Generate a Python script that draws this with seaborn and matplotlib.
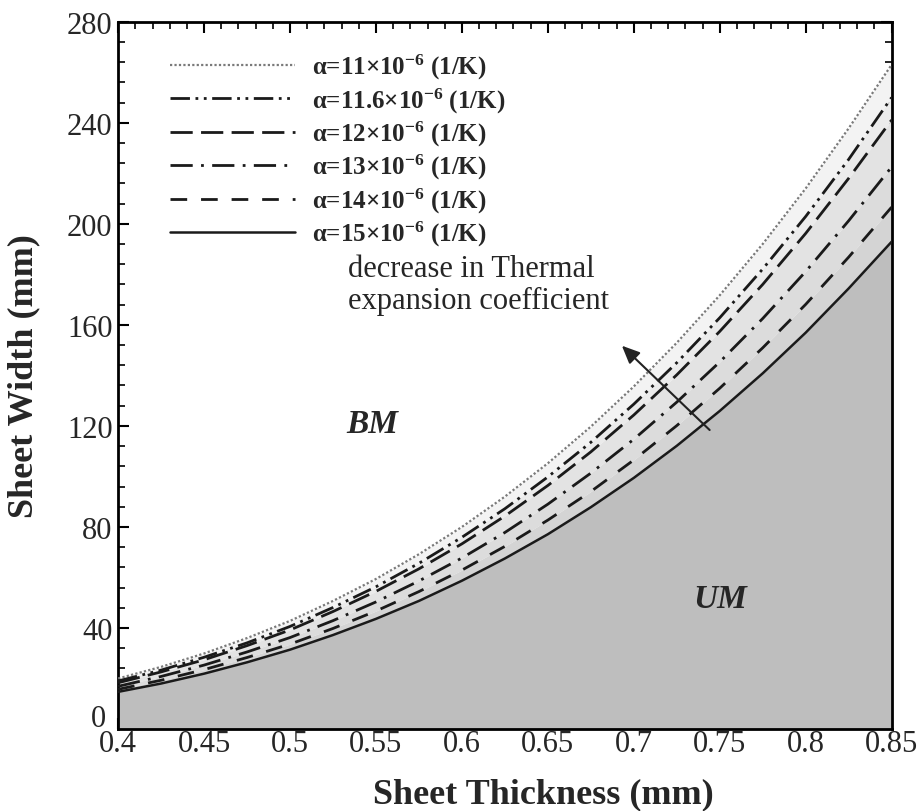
import matplotlib
matplotlib.use("Agg")
import matplotlib.pyplot as plt
from matplotlib.ticker import AutoMinorLocator
from matplotlib.transforms import ScaledTranslation
import seaborn as sns

# ---- data ----
thickness = [0.400, 0.425, 0.450, 0.475, 0.500, 0.525, 0.550, 0.575, 0.600, 0.625,
             0.650, 0.675, 0.700, 0.725, 0.750, 0.775, 0.800, 0.825, 0.850]
w_a11 = [20.0, 24.6, 29.9, 36.0, 42.8, 50.7, 59.4, 69.2, 80.0, 92.0,
         105.2, 119.7, 135.6, 152.9, 171.7, 192.0, 214.0, 237.8, 263.0]
w_a116 = [19.0, 23.3, 28.4, 34.1, 40.6, 48.1, 56.3, 65.6, 75.9, 87.2,
          99.8, 113.5, 128.6, 145.0, 162.8, 182.1, 202.9, 225.5, 250.0]
w_a12 = [18.3, 22.6, 27.4, 33.0, 39.2, 46.5, 54.5, 63.4, 73.3, 84.3,
         96.4, 109.7, 124.3, 140.2, 157.4, 176.0, 196.2, 218.0, 241.1]
w_a13 = [16.9, 20.8, 25.3, 30.5, 36.2, 42.9, 50.3, 58.6, 67.7, 77.8,
         89.0, 101.3, 114.7, 129.4, 145.3, 162.5, 181.1, 201.2, 222.5]
w_a14 = [15.7, 19.3, 23.5, 28.3, 33.6, 39.8, 46.7, 54.4, 62.9, 72.3,
         82.7, 94.0, 106.5, 120.1, 134.9, 150.9, 168.1, 186.8, 206.6]
w_a15 = [14.7, 18.0, 21.9, 26.4, 31.4, 37.2, 43.6, 50.7, 58.7, 67.5,
         77.1, 87.8, 99.4, 112.1, 125.9, 140.8, 156.9, 174.4, 192.9]
labels = ["α=11×10$^{\\mathbf{-6}}$ (1/K)",
          "α=11.6×10$^{\\mathbf{-6}}$ (1/K)",
          "α=12×10$^{\\mathbf{-6}}$ (1/K)",
          "α=13×10$^{\\mathbf{-6}}$ (1/K)",
          "α=14×10$^{\\mathbf{-6}}$ (1/K)",
          "α=15×10$^{\\mathbf{-6}}$ (1/K)"]
xticks = [0.4, 0.45, 0.5, 0.55, 0.6, 0.65, 0.7, 0.75, 0.8, 0.85]
xticklabels = ["0.4", "0.45", "0.5", "0.55", "0.6", "0.65", "0.7", "0.75", "0.8", "0.85"]
yticks = [0, 40, 80, 120, 160, 200, 240, 280]

series = [w_a11, w_a116, w_a12, w_a13, w_a14, w_a15]
styles = [(0, (1, 1)), (0, (7, 2, 1, 2, 1, 2)), (0, (8, 3)),
          (0, (8, 3, 1, 3)), (0, (6, 5)), "-"]
colors = ["#7a7a7a", "#1a1a1a", "#1a1a1a", "#1a1a1a", "#1a1a1a", "#1a1a1a"]
widths = [1.6, 2.0, 2.0, 2.0, 2.0, 1.8]

sns.set_theme(style="ticks")
plt.rcParams["font.family"] = ["Liberation Serif", "DejaVu Serif"]
plt.rcParams["mathtext.fontset"] = "custom"
plt.rcParams["mathtext.rm"] = "Liberation Serif"
plt.rcParams["mathtext.it"] = "Liberation Serif:italic"
plt.rcParams["mathtext.bf"] = "Liberation Serif:bold"

fig = plt.figure(figsize=(9.23, 8.12), dpi=100)
ax = fig.add_axes([0.128, 0.101, 0.838, 0.871])

# fills between curves
band_colors = ["#f3f3f3", "#ebebeb", "#e3e3e3", "#dcdcdc", "#d4d4d4"]
for i in range(5):
    ax.fill_between(thickness, series[i + 1], series[i], color=band_colors[i], lw=0, zorder=1)
ax.fill_between(thickness, 0, w_a15, color="#bebebe", lw=0, zorder=1)

for s, lab, ls, c, lw in zip(series, labels, styles, colors, widths):
    sns.lineplot(x=thickness, y=s, ax=ax, color=c, linestyle=ls, lw=lw, label=lab, zorder=3)

ax.set_xlim(0.4, 0.85)
ax.set_ylim(0, 280)
ax.set_xticks(xticks)
ax.set_xticklabels(xticklabels)
ax.set_yticks(yticks)
ax.xaxis.set_minor_locator(AutoMinorLocator(5))
ax.yaxis.set_minor_locator(AutoMinorLocator(5))
ax.tick_params(which="both", direction="in", top=True, right=True, labelsize=22, color="black")
ax.tick_params(which="major", length=8, width=1.5)
ax.tick_params(which="minor", length=5, width=1.2)
ax.tick_params(axis="x", pad=0)
ax.tick_params(axis="y", pad=4)
for sp in ax.spines.values():
    sp.set_linewidth(2)
    sp.set_color("black")

# the "0" on the y axis sits a little higher and further left in the reference
lab0 = ax.get_yticklabels()[0]
lab0.set_transform(lab0.get_transform() + ScaledTranslation(-5 / 72, 10 / 72, fig.dpi_scale_trans))

ax.set_xlabel("Sheet Thickness (mm)", fontsize=26, fontweight="bold")
ax.xaxis.set_label_coords(0.55, -0.068)
ax.set_ylabel("Sheet Width (mm)", fontsize=26, fontweight="bold")
ax.yaxis.set_label_coords(-0.101, 0.5)

ax.text(0.548, 121, "BM", fontsize=24, fontweight="bold", fontstyle="italic", ha="center", va="center", zorder=4)
ax.text(0.75, 51.5, "UM", fontsize=24, fontweight="bold", fontstyle="italic", ha="center", va="center", zorder=4)
ax.text(0.534, 188, "decrease in Thermal\nexpansion coefficient", fontsize=22, ha="left", va="top",
        linespacing=1.15, zorder=4)
ax.annotate("", xy=(0.6919, 152.5), xytext=(0.7453, 117.6),
            arrowprops=dict(arrowstyle="-|>,head_length=0.9,head_width=0.4", color="#222222", lw=1.5),
            zorder=5)

leg = ax.legend(loc="upper left", bbox_to_anchor=(0.045, 0.982), frameon=False, fontsize=18,
                handlelength=5.0, handletextpad=0.65, labelspacing=0.17, borderaxespad=0.3)
for t in leg.get_texts():
    t.set_fontweight("bold")

fig.savefig("out.png", dpi=100)
